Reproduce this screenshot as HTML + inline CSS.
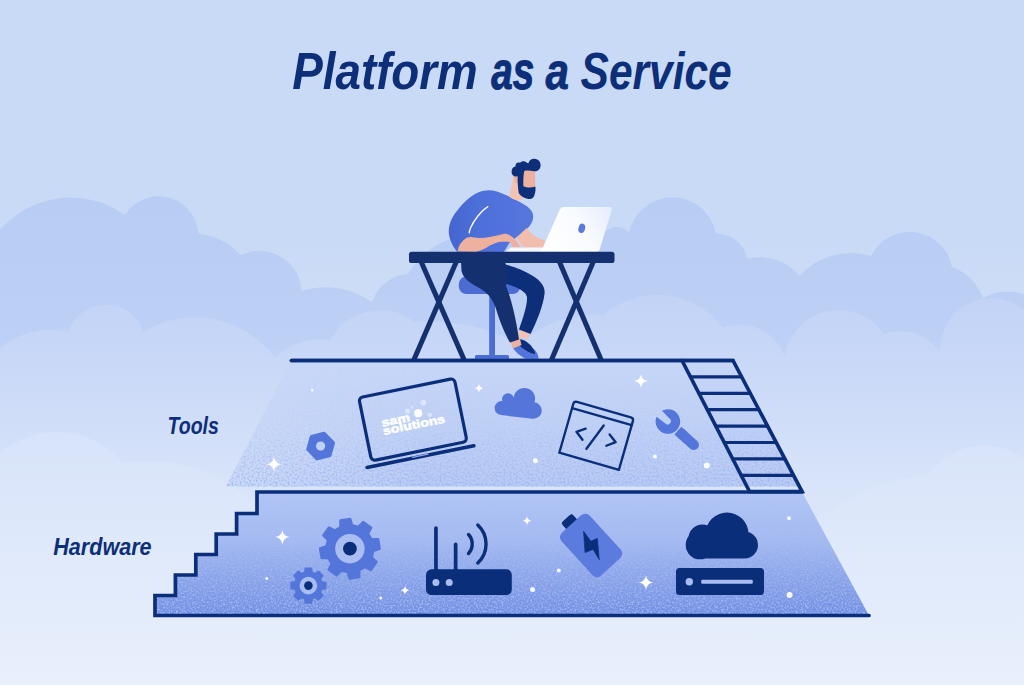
<!DOCTYPE html>
<html><head><meta charset="utf-8"><style>
html,body{margin:0;padding:0;background:#c9daf6;}
body{width:1024px;height:685px;overflow:hidden;position:relative;font-family:"Liberation Sans",sans-serif;}
svg{position:absolute;left:0;top:0;display:block;}
</style></head><body>
<svg width="1024" height="685" viewBox="0 0 1024 685">
<defs>
  <linearGradient id="bg" x1="0" y1="0" x2="0" y2="1">
    <stop offset="0" stop-color="#c9daf6"/>
    <stop offset="0.35" stop-color="#c9daf6"/>
    <stop offset="0.75" stop-color="#dbe6fa"/>
    <stop offset="1" stop-color="#e9f0fc"/>
  </linearGradient>
  <linearGradient id="cloudBack" x1="0" y1="195" x2="0" y2="520" gradientUnits="userSpaceOnUse">
    <stop offset="0" stop-color="#b8cdf4"/>
    <stop offset="0.45" stop-color="#bdd0f5"/>
    <stop offset="1" stop-color="#d6e2f9" stop-opacity="0"/>
  </linearGradient>
  <linearGradient id="cloudFront" x1="0" y1="295" x2="0" y2="560" gradientUnits="userSpaceOnUse">
    <stop offset="0" stop-color="#c2d3f6"/>
    <stop offset="0.35" stop-color="#cddbf8" stop-opacity=".8"/>
    <stop offset="1" stop-color="#e2ebfb" stop-opacity="0"/>
  </linearGradient>
  <linearGradient id="cloudFront3" x1="0" y1="440" x2="0" y2="685" gradientUnits="userSpaceOnUse">
    <stop offset="0" stop-color="#dbe6fb" stop-opacity=".6"/>
    <stop offset="1" stop-color="#eaf1fd" stop-opacity="0"/>
  </linearGradient>
  <linearGradient id="toolsV" x1="0" y1="360" x2="0" y2="487" gradientUnits="userSpaceOnUse">
    <stop offset="0" stop-color="#c6d6f8"/>
    <stop offset="0.5" stop-color="#c0d1f6"/>
    <stop offset="1" stop-color="#baccf4"/>
  </linearGradient>
  <linearGradient id="toolsFade" x1="225" y1="0" x2="420" y2="0" gradientUnits="userSpaceOnUse">
    <stop offset="0" stop-color="#fff" stop-opacity=".3"/>
    <stop offset="1" stop-color="#fff" stop-opacity="1"/>
  </linearGradient>
  <mask id="toolsMask"><rect x="0" y="0" width="1024" height="685" fill="url(#toolsFade)"/></mask>
  <linearGradient id="hwV" x1="0" y1="492" x2="0" y2="616" gradientUnits="userSpaceOnUse">
    <stop offset="0" stop-color="#b1c5f5"/>
    <stop offset="0.4" stop-color="#a3b9f1"/>
    <stop offset="1" stop-color="#6f8de2"/>
  </linearGradient>

  <filter id="spk" x="0" y="0" width="100%" height="100%" filterUnits="objectBoundingBox" color-interpolation-filters="sRGB">
    <feTurbulence type="fractalNoise" baseFrequency="0.55" numOctaves="2" seed="7" result="n"/>
    <feColorMatrix in="n" type="matrix" values="0 0 0 0 0.78  0 0 0 0 0.84  0 0 0 0 0.98  3 0 0 0 -1.25"/>
    <feGaussianBlur stdDeviation="0.6"/>
  </filter>
  <filter id="spk2" x="0" y="0" width="100%" height="100%" filterUnits="objectBoundingBox" color-interpolation-filters="sRGB">
    <feTurbulence type="fractalNoise" baseFrequency="0.5" numOctaves="2" seed="23" result="n"/>
    <feColorMatrix in="n" type="matrix" values="0 0 0 0 0.62  0 0 0 0 0.71  0 0 0 0 0.94  3 0 0 0 -1.25"/>
    <feGaussianBlur stdDeviation="0.6"/>
  </filter>
  <linearGradient id="hwNoiseG" x1="0" y1="500" x2="0" y2="616" gradientUnits="userSpaceOnUse">
    <stop offset="0" stop-color="#fff" stop-opacity="0"/>
    <stop offset="0.35" stop-color="#fff" stop-opacity=".12"/>
    <stop offset="1" stop-color="#fff" stop-opacity=".6"/>
  </linearGradient>
  <mask id="hwNoiseM"><path d="M257,492 L802,492 L869,615.5 L155,615.5 L155,595.5 L175.4,595.5 L175.4,575 L195.8,575 L195.8,554.5 L216.2,554.5 L216.2,534 L236.6,534 L236.6,513.5 L257,513.5 Z" fill="url(#hwNoiseG)"/></mask>
  <linearGradient id="tlNoiseG" x1="0" y1="380" x2="0" y2="487" gradientUnits="userSpaceOnUse">
    <stop offset="0" stop-color="#fff" stop-opacity="0"/>
    <stop offset="0.45" stop-color="#fff" stop-opacity=".18"/>
    <stop offset="1" stop-color="#fff" stop-opacity=".95"/>
  </linearGradient>
  <mask id="tlNoiseM"><path d="M291,360.5 L733,360.5 L799,486.5 L226,486.5 Z" fill="url(#tlNoiseG)"/></mask>
  <linearGradient id="shirtG" x1="448" y1="0" x2="534" y2="0" gradientUnits="userSpaceOnUse">
    <stop offset="0" stop-color="#4465cf"/>
    <stop offset="0.35" stop-color="#4d6fd8"/>
    <stop offset="1" stop-color="#5577de"/>
  </linearGradient>
  <linearGradient id="lapG" x1="548" y1="250" x2="612" y2="210" gradientUnits="userSpaceOnUse">
    <stop offset="0" stop-color="#ffffff"/>
    <stop offset="0.55" stop-color="#f8fafe"/>
    <stop offset="1" stop-color="#e6edfb"/>
  </linearGradient>
</defs>
<rect width="1024" height="685" fill="url(#bg)"/>
<!--CLOUDS-->
<path fill="url(#cloudBack)" d="M-2,232.5A93.3,93.3 0 0 1 125,215A39.8,39.8 0 0 1 198.4,233.5A67.4,67.4 0 0 1 240.6,255A42.5,42.5 0 0 1 301.6,291A79.8,79.8 0 0 1 372,302A40.6,40.6 0 0 1 408,274A81.6,81.6 0 0 1 540,262L608.3,229.7A15.7,15.7 0 0 1 629,232.8A44.3,44.3 0 0 1 716,233.8A30.1,30.1 0 0 1 747,258.7A51.9,51.9 0 0 1 799.6,276A68.0,68.0 0 0 1 871,256A43.1,43.1 0 0 1 952,267A50.5,50.5 0 0 1 983,298A49.0,49.0 0 0 1 1030,297L1030,560L-2,560Z"/>
<path fill="url(#cloudFront)" d="M-2,350A77.1,77.1 0 0 1 68,332A40.0,40.0 0 0 1 143.6,331.5A99.4,99.4 0 0 1 275,358A63.3,63.3 0 0 1 330,340A57.2,57.2 0 0 1 415,322A184.5,184.5 0 0 1 520,345A104.5,104.5 0 0 1 604,315A81.8,81.8 0 0 1 723,327.4A48.1,48.1 0 0 1 784.5,356A54.9,54.9 0 0 1 884,334A48.2,48.2 0 0 1 940,352A51.6,51.6 0 0 1 1035,322L1035,600L-2,600Z"/>
<path fill="url(#cloudFront3)" d="M-2,455A86.1,86.1 0 0 1 123,463A153.3,153.3 0 0 1 250,500A113.8,113.8 0 0 1 330,525L820,520A176.1,176.1 0 0 1 928,475A68.3,68.3 0 0 1 1035,468L1035,690L-2,690Z"/>
<!--LAYERS-->
<!-- tools layer -->
<g mask="url(#toolsMask)">
  <path d="M291,360.5 L733,360.5 L799,486.5 L226,486.5 Z" fill="url(#toolsV)"/>
</g>
<g mask="url(#tlNoiseM)"><rect x="220" y="360" width="585" height="130" filter="url(#spk2)"/></g>
<!-- hardware layer -->
<path d="M257,492 L802,492 L869,615.5 L155,615.5 L155,595.5 L175.4,595.5 L175.4,575 L195.8,575 L195.8,554.5 L216.2,554.5 L216.2,534 L236.6,534 L236.6,513.5 L257,513.5 Z" fill="url(#hwV)"/>
<g mask="url(#hwNoiseM)"><rect x="150" y="490" width="725" height="128" filter="url(#spk)"/></g>
<!-- outlines -->
<g fill="none" stroke="#0b2e7a" stroke-width="3.7" stroke-linecap="round" stroke-linejoin="miter">
  <path d="M802,492 L257,492 L257,513.5 L236.6,513.5 L236.6,534 L216.2,534 L216.2,554.5 L195.8,554.5 L195.8,575 L175.4,575 L175.4,595.5 L155,595.5 L155,615.5 L869,615.5"/>
  <path d="M291.5,360.5 L733,360.5 L802,491.5 L749.5,491.5 L682,360.5"/>
  <path stroke-width="3.2" d="M690.4,376.9 L741.6,376.9 M698.9,393.3 L750.3,393.3 M707.3,409.7 L758.9,409.7 M715.8,426.1 L767.5,426.1 M724.2,442.5 L776.1,442.5 M732.7,458.9 L784.8,458.9 M741.1,475.3 L793.4,475.3"/>
</g>
<!--ICONS-->
<g><path d="M340.53,527.15L340.44,520.44L350.16,518.90L352.15,525.31L358.51,526.84L363.20,522.03L371.15,527.81L368.03,533.75L371.45,539.33L378.16,539.24L379.70,548.96L373.29,550.95L371.76,557.31L376.57,562.00L370.79,569.95L364.85,566.83L359.27,570.25L359.36,576.96L349.64,578.50L347.65,572.09L341.29,570.56L336.60,575.37L328.65,569.59L331.77,563.65L328.35,558.07L321.64,558.16L320.10,548.44L326.51,546.45L328.04,540.09L323.23,535.40L329.01,527.45L334.95,530.57Z" fill="#5475da" stroke="#5475da" stroke-width="2.4" stroke-linejoin="round"/>
<circle cx="349.9" cy="548.7" r="24" fill="#5475da"/><circle cx="349.9" cy="548.7" r="14.7" fill="#a9bdf2"/><circle cx="349.9" cy="548.7" r="6.9" fill="#0b2e7a"/></g>
<g><path d="M304.79,572.59L305.38,568.46L311.42,568.46L312.01,572.59L315.05,573.85L318.38,571.35L322.65,575.62L320.15,578.95L321.41,581.99L325.54,582.58L325.54,588.62L321.41,589.21L320.15,592.25L322.65,595.58L318.38,599.85L315.05,597.35L312.01,598.61L311.42,602.74L305.38,602.74L304.79,598.61L301.75,597.35L298.42,599.85L294.15,595.58L296.65,592.25L295.39,589.21L291.26,588.62L291.26,582.58L295.39,581.99L296.65,578.95L294.15,575.62L298.42,571.35L301.75,573.85Z" fill="#5475da" stroke="#5475da" stroke-width="1.8" stroke-linejoin="round"/>
<circle cx="308.4" cy="585.6" r="14" fill="#5475da"/><circle cx="308.4" cy="585.6" r="8.8" fill="#a9bdf2"/><circle cx="308.4" cy="585.6" r="4.3" fill="#0b2e7a"/></g>
<g fill="#0b2e7a"><rect x="426" y="569.3" width="85.8" height="25.8" rx="5.5"/><rect x="434.1" y="526.2" width="3.7" height="46" rx="1.8"/><rect x="453.8" y="542.6" width="3.7" height="30" rx="1.8"/></g>
<circle cx="435.9" cy="582.6" r="3.5" fill="#a9bdf2"/><circle cx="449.2" cy="582.6" r="3.5" fill="#a9bdf2"/>
<g fill="none" stroke="#0b2e7a" stroke-width="3.4" stroke-linecap="round"><path d="M468.5,534.5 A14,14 0 0 1 468.5,553.5"/><path d="M477.8,525 A26,26 0 0 1 477.8,563"/></g>
<g transform="translate(591.1,545.4) rotate(-42.5)"><rect x="-7.3" y="-36.8" width="14.6" height="12" rx="2.8" fill="#0b2e7a"/><rect x="-19" y="-29" width="38" height="58" rx="6" fill="#5b7bde"/></g>
<path d="M583.5,531 L590.8,541.2 L597.4,538.3 L599.3,559.8 L593,549.4 L585,552.6 Z" fill="#0b2e7a" stroke="#0b2e7a" stroke-width="0.6" stroke-linejoin="round"/>
<path d="M705.5,534.0a21.5,21.5 0 1 1 43.0,0a21.5,21.5 0 1 1 -43.0,0zM688.5,538.5a14,14 0 1 1 28,0a14,14 0 1 1 -28,0zM685.7,545.0a14.3,14.3 0 1 1 28.6,0a14.3,14.3 0 1 1 -28.6,0zM731.0,545.0a13.5,13.5 0 1 1 27.0,0a13.5,13.5 0 1 1 -27.0,0zM700,530L745,530L745,558.5L700,558.5Z" fill="#0b2e7a"/>
<rect x="676" y="568" width="88" height="27" rx="3.5" fill="#0b2e7a"/><circle cx="689.3" cy="581.8" r="3.7" fill="#a9bdf2"/><rect x="701.2" y="579.8" width="51.6" height="4" rx="1.2" fill="#a9bdf2"/>
<path d="M333.0,443.0L329.5,455.3L317.1,458.4L308.2,449.2L311.7,436.9L324.1,433.8Z" fill="#5475da" stroke="#5475da" stroke-width="4" stroke-linejoin="round"/><circle cx="320.6" cy="446.1" r="4.6" fill="#c0d1f6"/>
<g transform="translate(412.9,419.6) rotate(-11.5)"><rect x="-48.7" y="-32.2" width="97.4" height="64.4" rx="4" fill="none" stroke="#0b2e7a" stroke-width="3.2"/><path d="M-54.5,37.8L54.5,37.8" stroke="#0b2e7a" stroke-width="3.6" stroke-linecap="round"/><path d="M-8,36.9L8,36.9" stroke="#8fa6e6" stroke-width="1.2" stroke-linecap="round"/><g fill="#fff"><circle cx="6.5" cy="-5.2" r="4.1" opacity=".92"/><circle cx="13.5" cy="-14.5" r="2.8" opacity=".45"/><circle cx="-3.5" cy="-9.3" r="2.6" opacity=".45"/><circle cx="17.5" cy="-1.2" r="2.2" opacity=".45"/><circle cx="1.5" cy="-12.5" r="1.6" opacity=".35"/><text x="-31.5" y="0.8" stroke="#fff" stroke-width=".5" font-family="Liberation Sans, sans-serif" font-weight="700" font-size="11.5" textLength="29" lengthAdjust="spacingAndGlyphs">sam</text><text x="-31.5" y="9.2" stroke="#fff" stroke-width=".5" font-family="Liberation Sans, sans-serif" font-weight="700" font-size="11.5" textLength="63" lengthAdjust="spacingAndGlyphs">solutions</text></g></g>
<path d="M513.7,398.6a10.7,10.7 0 1 1 21.4,0a10.7,10.7 0 1 1 -21.4,0zM502.0,399.2a6,6 0 1 1 12,0a6,6 0 1 1 -12,0zM494.6,408.1a7,7 0 1 1 14,0a7,7 0 1 1 -14,0zM525.2,410.5a8.3,8.3 0 1 1 16.6,0a8.3,8.3 0 1 1 -16.6,0zM501.6,408.1L508,399.2L524.4,398.6L533.5,410.5L532.54,418.74L500.79,415.05Z" fill="#5475da"/>
<g transform="translate(596.5,435.45) rotate(16)" fill="none" stroke="#0b2e7a" stroke-width="2.35" stroke-linecap="round" stroke-linejoin="round"><path d="M-31,26.85L-31,-23.85Q-31,-26.85 -28,-26.85L28,-26.85Q31,-26.85 31,-23.85L31,26.85Z"/><path d="M-31,-19.6L31,-19.6"/><path d="M-12.3,-3.6L-20.3,2L-12.3,8"/><path d="M12.3,-4.6L20.3,1.2L12.3,7.2"/><path d="M4.2,-11.5L-6,15.5"/></g>
<g transform="translate(667.9,421.5) rotate(42)" fill="#5475da"><path d="M-11.6,-4.1 A12.3,12.3 0 1 1 -11.6,4.1 L-0.5,3.3 A3.3,3.3 0 0 0 -0.5,-3.3 Z"/><rect x="13.5" y="-5.2" width="26.5" height="10.4" rx="5.2"/><rect x="13.5" y="-5.2" width="8" height="10.4"/></g>
<path transform="translate(274,464.2)" d="M0,-7.5Q0.8999999999999999,-0.8999999999999999 7.5,0Q0.8999999999999999,0.8999999999999999 0,7.5Q-0.8999999999999999,0.8999999999999999 -7.5,0Q-0.8999999999999999,-0.8999999999999999 0,-7.5Z" fill="#fff"/>
<path transform="translate(479,388.2)" d="M0,-4.5Q0.54,-0.54 4.5,0Q0.54,0.54 0,4.5Q-0.54,0.54 -4.5,0Q-0.54,-0.54 0,-4.5Z" fill="#fff"/>
<path transform="translate(640.9,380.9)" d="M0,-6.75Q0.8099999999999999,-0.8099999999999999 6.75,0Q0.8099999999999999,0.8099999999999999 0,6.75Q-0.8099999999999999,0.8099999999999999 -6.75,0Q-0.8099999999999999,-0.8099999999999999 0,-6.75Z" fill="#fff"/>
<path transform="translate(282.4,536.9)" d="M0,-7.25Q0.87,-0.87 7.25,0Q0.87,0.87 0,7.25Q-0.87,0.87 -7.25,0Q-0.87,-0.87 0,-7.25Z" fill="#fff"/>
<path transform="translate(405,590.2)" d="M0,-4.5Q0.54,-0.54 4.5,0Q0.54,0.54 0,4.5Q-0.54,0.54 -4.5,0Q-0.54,-0.54 0,-4.5Z" fill="#fff"/>
<path transform="translate(527,520.8)" d="M0,-4.5Q0.54,-0.54 4.5,0Q0.54,0.54 0,4.5Q-0.54,0.54 -4.5,0Q-0.54,-0.54 0,-4.5Z" fill="#fff"/>
<path transform="translate(646,582.5)" d="M0,-7.25Q0.87,-0.87 7.25,0Q0.87,0.87 0,7.25Q-0.87,0.87 -7.25,0Q-0.87,-0.87 0,-7.25Z" fill="#fff"/>
<circle cx="312.2" cy="390.3" r="1.2" fill="#fff" opacity=".92"/>
<circle cx="535.4" cy="460.7" r="2.5" fill="#fff" opacity=".92"/>
<circle cx="655" cy="456.6" r="2" fill="#fff" opacity=".92"/>
<circle cx="706.8" cy="465.6" r="3" fill="#fff" opacity=".92"/>
<circle cx="266.8" cy="578.5" r="1.5" fill="#fff" opacity=".92"/>
<circle cx="380.7" cy="598" r="1.5" fill="#fff" opacity=".92"/>
<circle cx="558.8" cy="570.4" r="2" fill="#fff" opacity=".92"/>
<circle cx="532.5" cy="589.6" r="2.5" fill="#fff" opacity=".92"/>
<circle cx="789" cy="518.3" r="2" fill="#fff" opacity=".92"/>
<circle cx="789.6" cy="595" r="3" fill="#fff" opacity=".92"/>
<!--PERSON-->
<!-- top platform line re-drawn over legs later -->
<g id="deskperson">
  <!-- stool -->
  <rect x="489.2" y="288" width="5.8" height="70" fill="#4b6dd3"/>
  <rect x="475" y="355" width="34" height="5" rx="1.5" fill="#4b6dd3"/>
  <rect x="458.8" y="276.5" width="61.5" height="17.5" rx="7.5" fill="#4b6dd3"/>
  <!-- desk legs -->
  <g stroke="#15306e" stroke-width="5" stroke-linecap="butt" fill="none">
    <path d="M421.3,262 L464.2,360"/><path d="M456.2,262 L413.8,360"/>
    <path d="M559.5,262 L601.2,360"/><path d="M593.2,262 L551.4,360"/>
  </g>
  <!-- far shoe / foot -->
  <path d="M512.5,346.5 C514,343 518,341 521,342 L534,349 C537,352 539,356 538.5,359.5 C534,361 528,360.5 524,358 C519,355 514,351 512.5,346.5 Z" fill="#5374d9"/>
  <path d="M518.5,339.5 C523,338.5 529,343 532,347 C534,350 535.5,352.5 535,354 C531,354 525,350 521,347 C519,345 517.5,342 518.5,339.5 Z" fill="#0d2f7a"/>
  <!-- ankles -->
  <path d="M509.5,339.5 L519.5,337 L521.5,345 L513,348.5 Z" fill="#efb19f"/>
  <path d="M519.5,328 L530,333 L527,339.5 L518.5,337 Z" fill="#f3c2b3"/>
  <!-- leg 2 (thigh to right knee, shin back) -->
  <path d="M492,262.5 C505,263 521,268.5 533,276 C541,281 545.5,287 544.5,294 C543,306 537,321 530.5,334 L519,329.5 C523,318 527.5,305 527,297 C526,291 516,286.5 503,283 L480,280 Z" fill="#0d2f7a"/>
  <!-- leg 1 (straight down) -->
  <path d="M461,262 L505,262 C508,270 508,278 506,286 C511,298 516,318 519,339.5 L510,342.5 C505,334 500,322 497,312 C494,301 489,294 481,289 C472,284 463,279 461.5,271 Z" fill="#15306e"/>
  <!-- shirt -->
  <path d="M457.6,252 C453,247 449.5,240 448.8,232.7 C448.5,226 451,219 455,213.5 C461,205 468,198 476,193.5 C483,190 490,189.5 497,191.5 C506,194.5 516,199.5 524,204.5 C530,208 533.5,212 533.2,217 C533,222 530,226 526.7,229.2 L516.2,237.4 L509.1,243.3 L503.9,252 Z" fill="url(#shirtG)"/>
  <path d="M487.8,206.7 C481,211 474,220 470.5,228 C469.6,230.5 469.3,231.8 469.3,232.7" fill="none" stroke="#fff" stroke-width="1.4" stroke-linecap="round" opacity=".95"/>
  <!-- front arm (behind laptop) -->
  <path d="M526.7,228 C530,233 536,238 544,240 L548,247.5 L524,248 L516,238 Z" fill="#f2bdad"/>
  <!-- back arm -->
  <path d="M457.6,251.5 C458.5,246 461,241.5 467,237.6 C471,236.2 475,237.8 479,238 C487,238 495,236 503.3,233.9 C506.5,233.5 509,234.5 511,236 C515,239 518.5,242.5 519.7,245.6 C520.2,247.5 519.5,249 518,249.3 C516,249.3 514,248.3 512.5,247 C511.5,245 511,243.3 510,242.1 C506,241.6 502,241.6 498.6,242.1 C494,243.5 490,245.5 486.9,247.4 C483,249.5 479,251 475.2,252 Z" fill="#efb19f"/>
  <!-- laptop -->
  <path d="M506,251.8 L510.5,247.6 L545,247.6 L545,251.8 Z" fill="#f4f7fe"/>
  <path d="M563.5,207 L609.5,207 Q612.6,207 611.7,210 L599.5,250 Q599,251.8 597,251.8 L541,251.8 L559.8,209.5 Q561,207 563.5,207 Z" fill="url(#lapG)"/>
  <ellipse cx="581.8" cy="228.3" rx="3.3" ry="4.8" transform="rotate(14 581.8 228.3)" fill="#5a79da"/>
  <!-- desk top -->
  <rect x="409" y="251.7" width="205.5" height="11.3" rx="2.6" fill="#15306e"/>
  <!-- neck -->
  <path d="M513,176 L521,178 L523,199 C519,201.5 513,200 509,196.5 C511,190 512.5,183 513,176 Z" fill="#f3c2b3"/>
  <!-- face -->
  <path d="M522.8,169.5 L535,169.5 L535.4,189 L522.8,191 Z" fill="#efb19f"/>
  <path d="M513.5,172 L518.5,172 L518.5,184 L514.5,182 Z" fill="#efb19f"/>
  <!-- hair + beard -->
  <path d="M517.6,176 C515,177.5 511.6,175.5 511.6,172.3 C511.4,169 513,167 515.5,166.6 C515,163.5 517.5,161.5 520,162.8 C521.5,160.8 524.5,160.6 526.3,162.3 C527,162.9 527.6,163.3 528.4,163.2 C529,160.5 531.5,158.6 534.6,158.8 C538.3,159 540.8,162 540.6,165.4 C540.4,169.3 537.3,171.6 534,171.2 C530.5,170.8 527.5,170 524.3,171 C523.4,175 523.2,181 523.4,186.3 C527,188 531.5,187.8 535.2,186.6 C535.8,188.5 535.6,192 534.5,195 C533.6,198 531.5,199.6 528.5,199 C524.5,198.2 520.5,196.3 518.8,193.2 C517.8,188 517.6,181.5 517.6,176 Z" fill="#0d2f7a"/>
</g>
<!-- platform line over feet -->
<path d="M291.5,360.5 L733,360.5" stroke="#0b2e7a" stroke-width="3.7" stroke-linecap="round"/>
<!--TEXT-->
<g font-family="Liberation Sans, sans-serif" font-weight="700" font-style="italic" fill="#0d2e78">
  <g font-size="51.5">
    <text transform="translate(292.3,88.8) scale(0.888,1)">Platform</text>
    <text transform="translate(491.2,88.8) scale(0.752,1)" stroke="#0d2e78" stroke-width="1">as</text>
    <text transform="translate(545.5,88.8) scale(0.82,1)" stroke="#0d2e78" stroke-width=".8">a</text>
    <text transform="translate(580.6,88.8) scale(0.825,1)">Service</text>
  </g>
  <g font-size="23.8">
    <text transform="translate(167.6,434) scale(0.82,1)">Tools</text>
    <text transform="translate(53.2,555.1) scale(0.907,1)">Hardware</text>
  </g>
</g>
</svg>
</body></html>
